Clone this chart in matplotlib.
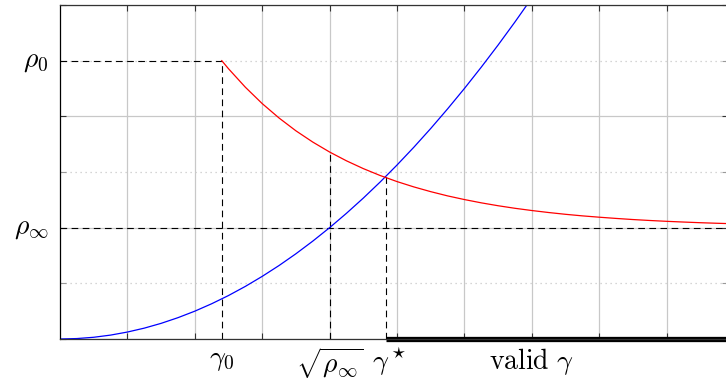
import matplotlib

matplotlib.use("Agg")
import matplotlib.pyplot as plt

plt.rcParams["mathtext.fontset"] = "cm"
plt.rcParams["font.family"] = "serif"

# key levels and positions (x in grid units, y in rho units)
rho_0 = 5.0
rho_inf = 2.0
gamma_0 = 2.4
sqrt_rho_inf = 4.0
gamma_star = 4.83
rho_at_sqrt = 3.36
rho_star = 2.92

# blue curve: rho = gamma^2 (scaled)
blue_x = [0.0, 0.25, 0.5, 0.75, 1.0, 1.25, 1.5, 1.75, 2.0, 2.25, 2.5, 2.75, 3.0, 3.25, 3.5,
          3.75, 4.0, 4.25, 4.5, 4.75, 5.0, 5.25, 5.5, 5.75, 6.0, 6.25, 6.5, 6.75, 7.0]
blue_y = [0.0, 0.008, 0.031, 0.070, 0.125, 0.195, 0.281, 0.383, 0.5, 0.633, 0.781, 0.945, 1.125, 1.320, 1.531,
          1.758, 2.0, 2.258, 2.531, 2.820, 3.125, 3.445, 3.781, 4.133, 4.5, 4.883, 5.281, 5.695, 6.125]

# red curve: decays from rho_0 at gamma_0 toward rho_inf
red_x = [2.4, 2.5, 2.75, 3.0, 3.25, 3.5, 3.75, 4.0, 4.25, 4.5, 4.75, 5.0, 5.25, 5.5, 5.75, 6.0,
         6.25, 6.5, 6.75, 7.0, 7.25, 7.5, 7.75, 8.0, 8.25, 8.5, 8.75, 9.0, 9.25, 9.5, 9.75, 10.0]
red_y = [5.0, 4.855, 4.523, 4.229, 3.970, 3.740, 3.538, 3.359, 3.201, 3.061, 2.937, 2.828, 2.732, 2.647, 2.571, 2.505,
         2.446, 2.394, 2.348, 2.308, 2.272, 2.240, 2.212, 2.188, 2.166, 2.146, 2.129, 2.114, 2.101, 2.089, 2.079, 2.070]

x_grid = [1, 2, 3, 4, 5, 6, 7, 8, 9]
y_major = [0, 2, 4, 6]
y_minor = [1, 3, 5]

C_GRID = "#c8c8c8"; C_AX = "#333333"
DASH = (0, (6, 4))

fig = plt.figure(figsize=(7.26, 3.83), dpi=100)
ax = fig.add_axes([60 / 726, 44 / 383, 668 / 726, 334 / 383])
ax.set_xlim(0, 668 / 67.4)
ax.set_ylim(0, 6)

ax.set_xticks(x_grid)
ax.set_xticklabels([])
ax.set_yticks(y_major)
ax.set_yticks(y_minor, minor=True)
ax.set_yticklabels([])
ax.tick_params(which="both", direction="in", top=True, right=True, length=4, width=0.8, color=C_AX)
ax.tick_params(which="minor", color="#999999")
for x in x_grid:
    ax.axvline(x, color=C_GRID, lw=0.9, zorder=0)
for y in y_major:
    ax.axhline(y, color=C_GRID, lw=0.9, zorder=0)
for y in y_minor:
    ax.axhline(y, color=C_GRID, lw=0.9, ls=(0, (1, 3)), zorder=0)
for s in ax.spines.values():
    s.set_color(C_AX); s.set_linewidth(0.9)
ax.spines["left"].set_color("black")

# guide lines
ax.plot([0, gamma_0], [rho_0, rho_0], color="black", lw=0.8, ls=DASH)
ax.axhline(rho_inf, color="black", lw=0.8, ls=DASH)
ax.plot([gamma_0, gamma_0], [0, rho_0], color="black", lw=0.8, ls=DASH)
ax.plot([sqrt_rho_inf, sqrt_rho_inf], [0, rho_at_sqrt], color="black", lw=0.8, ls=DASH)
ax.plot([gamma_star, gamma_star], [0, rho_star], color="black", lw=0.8, ls=DASH)

ax.plot(blue_x, blue_y, color="blue", lw=0.9)
ax.plot(red_x, red_y, color="red", lw=0.9)

# valid region along the axis
ax.plot([gamma_star, 10.5], [0, 0], color="black", lw=3.8, clip_on=False, solid_capstyle="butt")

xt = ax.get_xaxis_transform(); yt = ax.get_yaxis_transform()
fs = 20
ax.text(gamma_0, -0.02, r"$\gamma_0$", transform=xt, ha="center", va="top", fontsize=fs)
ax.text(sqrt_rho_inf, -0.02, r"$\sqrt{\rho_\infty}$", transform=xt, ha="center", va="top", fontsize=fs)
ax.text(gamma_star + 0.05, -0.02, r"$\gamma^\star$", transform=xt, ha="center", va="top", fontsize=fs)
ax.text(7.0, -0.02, r"$\mathrm{valid}\ \gamma$", transform=xt, ha="center", va="top", fontsize=fs)
ax.text(-0.017, rho_0, r"$\rho_0$", transform=yt, ha="right", va="center", fontsize=fs)
ax.text(-0.017, rho_inf, r"$\rho_\infty$", transform=yt, ha="right", va="center", fontsize=fs)

fig.savefig("out.png", dpi=100)
